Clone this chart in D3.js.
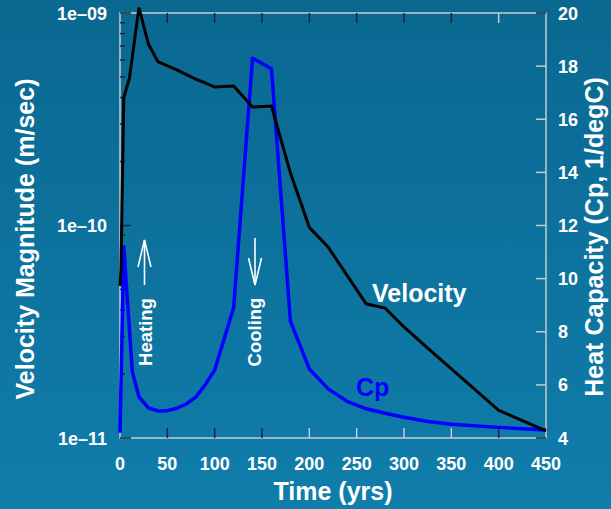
<!DOCTYPE html>
<html>
<head>
<meta charset="utf-8">
<script src="https://d3js.org/d3.v7.min.js"></script>
<style>
  html, body { margin: 0; padding: 0; }
  svg { display: block; font-family: "Liberation Sans", Arial, sans-serif; font-weight: bold; }
</style>
</head>
<body>
<div id="chart"></div>
<script>
// velocity magnitude (m/sec) vs time (yrs)
const velTime  = [0, 1, 4, 10, 20, 30, 40, 60, 80, 90, 100, 120, 140, 160, 180, 200, 220, 260, 280, 300, 325, 400, 450];
const velValue = [5.2e-11, 6.2e-11, 4.0e-10, 4.95e-10, 1.06e-9, 7.15e-10, 5.9e-10, 5.4e-10, 4.89e-10, 4.69e-10, 4.48e-10,
                  4.53e-10, 3.61e-10, 3.65e-10, 1.77e-10, 9.8e-11, 7.9e-11, 4.28e-11, 4.09e-11, 3.33e-11, 2.65e-11, 1.35e-11, 1.08e-11];

// heat capacity Cp (1/degC) vs time (yrs)
const cpTime  = [0, 4, 13, 20, 30, 40, 50, 60, 70, 80, 90, 100, 120, 140, 160, 180, 200, 220, 240, 260, 280, 300, 325, 350, 400, 450];
const cpValue = [4.2, 11.2, 6.5, 5.55, 5.13, 5.02, 5.03, 5.12, 5.28, 5.54, 6.0, 6.56, 8.9, 18.3, 17.9, 8.4, 6.6, 5.85, 5.38, 5.1, 4.93, 4.78, 4.62, 4.52, 4.4, 4.3];

const xTicks = [0, 50, 100, 150, 200, 250, 300, 350, 400, 450];
const leftTicks = [1e-11, 1e-10, 1e-9];
const leftTickLabels = ['1e–11', '1e–10', '1e–09'];
const rightTicks = [4, 6, 8, 10, 12, 14, 16, 18, 20];

const W = 611, H = 509;
const plot = {left: 120, right: 546, top: 13, bottom: 438};

const svg = d3.select('#chart').append('svg')
    .attr('width', W)
    .attr('height', H);

const grad = svg.append('defs').append('linearGradient')
    .attr('id', 'bg').attr('x1', 0).attr('y1', 0).attr('x2', 0).attr('y2', 1);
grad.append('stop').attr('offset', '0%').attr('stop-color', '#0a6890');
grad.append('stop').attr('offset', '100%').attr('stop-color', '#107dab');

svg.append('rect').attr('width', W).attr('height', H).attr('fill', 'url(#bg)');

const x = d3.scaleLinear().domain([0, 450]).range([plot.left, plot.right]);
const yVel = d3.scaleLog().domain([1e-11, 1e-9]).range([plot.bottom, plot.top]);
const yCp = d3.scaleLinear().domain([4, 20]).range([plot.bottom, plot.top]);

// frame
const axisGrey = '#c3ccd3';
svg.append('rect')
    .attr('x', plot.left).attr('y', plot.top)
    .attr('width', plot.right - plot.left).attr('height', plot.bottom - plot.top)
    .attr('fill', 'none').attr('stroke', axisGrey).attr('stroke-width', 1.5);

// x ticks (bottom up, top down)
const xTickCol = d => (d >= 200 && d <= 350) ? axisGrey : '#1a2a33';
svg.append('g').selectAll('line')
    .data(xTicks.slice(1, -1))
    .join('line')
    .attr('x1', d => x(d)).attr('x2', d => x(d))
    .attr('y1', plot.bottom).attr('y2', plot.bottom - 10)
    .attr('stroke', xTickCol).attr('stroke-width', 1.5);
svg.append('g').selectAll('line')
    .data(xTicks.slice(1, -1))
    .join('line')
    .attr('x1', d => x(d)).attr('x2', d => x(d))
    .attr('y1', plot.top).attr('y2', plot.top + 10)
    .attr('stroke', d => d === 400 ? axisGrey : '#1a2a33').attr('stroke-width', 1.5);

// left log ticks
const minor = yVel.ticks().filter(d => !leftTicks.includes(d));
svg.append('g').selectAll('line')
    .data(minor)
    .join('line')
    .attr('x1', plot.left).attr('x2', plot.left + 5)
    .attr('y1', d => yVel(d)).attr('y2', d => yVel(d))
    .attr('stroke', '#1a2a33').attr('stroke-width', 1.5);
svg.append('g').selectAll('line')
    .data(leftTicks)
    .join('line')
    .attr('x1', plot.left).attr('x2', plot.left + 11)
    .attr('y1', d => yVel(d)).attr('y2', d => yVel(d))
    .attr('stroke', '#1a2a33').attr('stroke-width', 1.5);

// right ticks
svg.append('g').selectAll('line')
    .data(rightTicks)
    .join('line')
    .attr('x1', plot.right).attr('x2', plot.right - 10)
    .attr('y1', d => yCp(d)).attr('y2', d => yCp(d))
    .attr('stroke', d => (d === 4 || d === 20) ? '#1a2a33' : axisGrey).attr('stroke-width', 1.5);

// tick labels
svg.append('g').selectAll('text')
    .data(xTicks)
    .join('text')
    .attr('x', d => x(d)).attr('y', 470)
    .attr('text-anchor', 'middle')
    .attr('font-size', 18).attr('fill', '#fff')
    .text(d => d);

svg.append('g').selectAll('text')
    .data(leftTicks)
    .join('text')
    .attr('x', 107).attr('y', d => yVel(d) + 6.5)
    .attr('text-anchor', 'end')
    .attr('font-size', 18).attr('fill', '#fff')
    .text((d, i) => leftTickLabels[i]);

svg.append('g').selectAll('text')
    .data(rightTicks)
    .join('text')
    .attr('x', 558).attr('y', d => yCp(d) + 6.5)
    .attr('text-anchor', 'start')
    .attr('font-size', 18).attr('fill', '#fff')
    .text(d => d);

// axis titles
svg.append('text')
    .attr('x', 333).attr('y', 500)
    .attr('text-anchor', 'middle')
    .attr('font-size', 25).attr('fill', '#fff')
    .text('Time (yrs)');

svg.append('text')
    .attr('transform', 'translate(33.5,239) rotate(-90)')
    .attr('text-anchor', 'middle')
    .attr('font-size', 25).attr('fill', '#fff')
    .text('Velocity Magnitude (m/sec)');

svg.append('text')
    .attr('transform', 'translate(603,237) rotate(-90)')
    .attr('text-anchor', 'middle')
    .attr('font-size', 25).attr('fill', '#fff')
    .text('Heat Capacity (Cp, 1/degC)');

// series
const cpLine = d3.line()
    .x((d, i) => x(cpTime[i]))
    .y(d => yCp(d));
svg.append('path')
    .datum(cpValue)
    .attr('d', cpLine)
    .attr('fill', 'none')
    .attr('stroke', '#0000ff')
    .attr('stroke-width', 3.5)
    .attr('stroke-linejoin', 'round');

const velLine = d3.line()
    .x((d, i) => x(velTime[i]))
    .y(d => yVel(d));
svg.append('path')
    .datum(velValue)
    .attr('d', velLine)
    .attr('fill', 'none')
    .attr('stroke', '#000')
    .attr('stroke-width', 3)
    .attr('stroke-linejoin', 'miter');

// series labels
svg.append('text')
    .attr('x', 372).attr('y', 302)
    .attr('font-size', 25).attr('fill', '#fff')
    .text('Velocity');
svg.append('text')
    .attr('x', 356).attr('y', 396)
    .attr('font-size', 25).attr('fill', '#0000ff')
    .text('Cp');

// annotations: heating / cooling
function arrow(cx, tipY, tailY) {
    const dir = tipY < tailY ? 1 : -1;
    const g = svg.append('g').attr('stroke', '#fff').attr('stroke-width', 1.6).attr('fill', 'none');
    g.append('line').attr('x1', cx).attr('x2', cx).attr('y1', tailY).attr('y2', tipY);
    g.append('polyline')
        .attr('points', `${cx - 6.5},${tipY + dir * 27} ${cx},${tipY} ${cx + 6.5},${tipY + dir * 27}`);
}
arrow(144.5, 240, 285);
arrow(255, 285, 238);

svg.append('text')
    .attr('transform', 'translate(152,332) rotate(-90)')
    .attr('text-anchor', 'middle')
    .attr('font-size', 18.5).attr('fill', '#fff')
    .text('Heating');
svg.append('text')
    .attr('transform', 'translate(261,332) rotate(-90)')
    .attr('text-anchor', 'middle')
    .attr('font-size', 18.5).attr('fill', '#fff')
    .text('Cooling');
</script>
</body>
</html>
